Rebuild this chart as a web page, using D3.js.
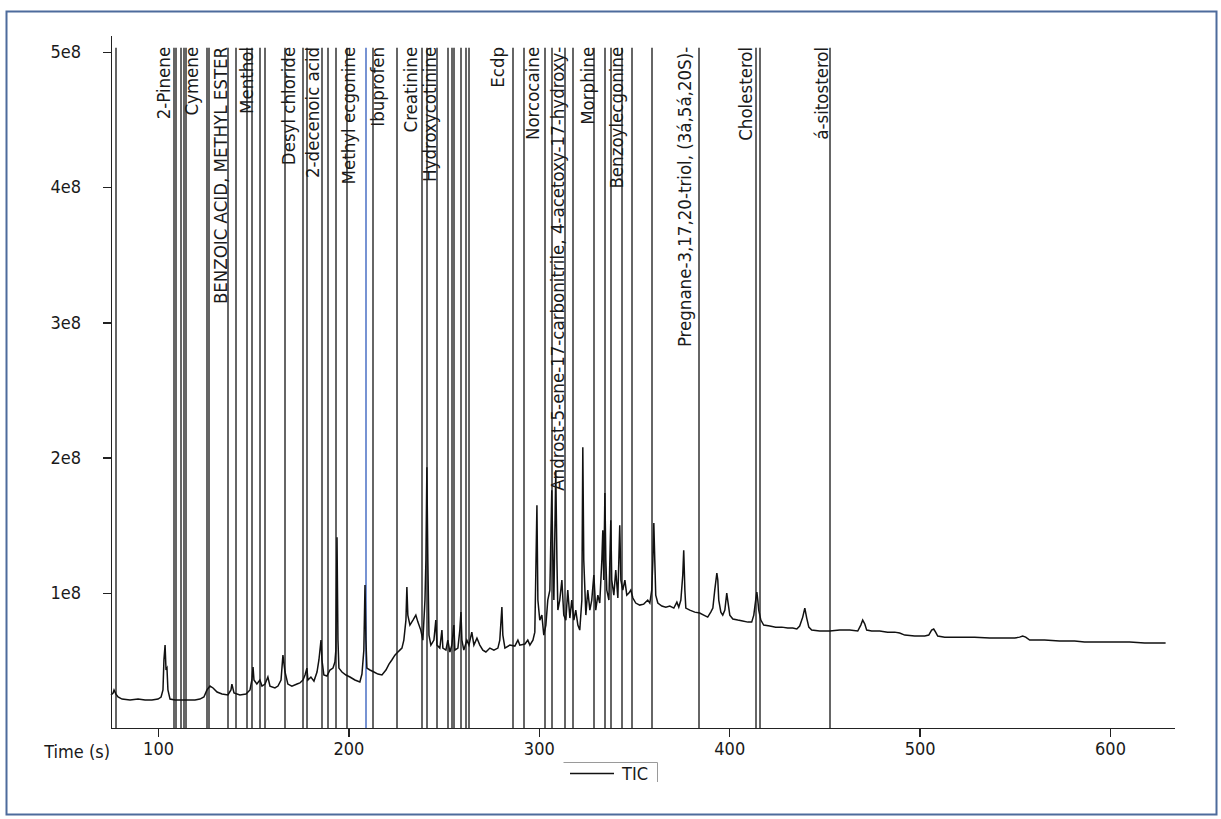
<!DOCTYPE html>
<html>
  <head>
    <meta charset="utf-8">
    <style>
      body {
        margin: 0;
        background: #fff;
      }
      svg text {
        font-family: "DejaVu Sans Condensed", "DejaVu Sans", sans-serif;
        font-stretch: condensed;
        fill: #1a1a1a;
      }
      .axis path, .axis line {
        stroke: #222;
        stroke-width: 1.4;
        shape-rendering: crispEdges;
      }
      .marker {
        stroke: #333;
        stroke-width: 1.5;
      }
      .trace {
        fill: none;
        stroke: #111;
        stroke-width: 1.5;
      }
    </style>
  </head>
  <body>
    <script src="https://cdn.jsdelivr.net/npm/d3@7"></script>
    <script>
      // axis ticks
      var xTicks = [100, 200, 300, 400, 500, 600];
      var yTicks = [1e8, 2e8, 3e8, 4e8, 5e8];

      // identified compounds: label text and retention time (s)
      var compoundNames = ["2-Pinene", "Cymene", "BENZOIC ACID, METHYL ESTER", "Menthol",
        "Desyl chloride", "2-decenoic acid", "Methyl ecgonine", "Ibuprofen", "Creatinine",
        "Hydroxycotinine", "Ecdp", "Norcocaine",
        "Androst-5-ene-17-carbonitrile, 4-acetoxy-17-hydroxy-", "Morphine",
        "Benzoylecgonine", "Pregnane-3,17,20-triol, (3á,5á,20S)-", "Cholesterol", "á-sitosterol"];
      var compoundTimes = [106.3, 121.0, 136.2, 149.9, 171.7, 184.8, 203.2, 218.9, 236.0,
        246.2, 281.9, 300.0, 313.2, 329.2, 344.1, 380.1, 411.9, 451.8];

      // peak marker lines (s); one is highlighted
      var markerTimes = [77.9, 108.4, 109.4, 112.1, 113.4, 114.7, 125.7, 126.8, 136.7, 140.9,
        146.7, 149.3, 153.5, 156.2, 166.7, 176.1, 178.2, 186.1, 189.2, 193.4, 199.2, 212.9,
        225.5, 238.6, 241.2, 246.5, 252.3, 254.4, 255.4, 259.1, 261.7, 263.3, 286.4, 292.1,
        303.2, 306.8, 313.7, 317.9, 328.9, 334.7, 337.8, 343.6, 348.9, 359.3, 384.0, 413.9,
        416.0, 452.8];
      var selectedMarker = 209.2;
      var markerTop = 5.03e8;

      // total ion current: [time (s), intensity (millions)]
      var ticTrace = [
        [75.3, 24.4], [76.4, 25.9], [76.9, 28.1], [77.9, 25.1], [79.0, 22.9], [81.1, 21.4],
        [85.3, 20.7], [89.5, 21.4], [93.2, 20.7], [96.8, 20.7], [100.0, 21.4], [101.6, 22.9],
        [102.6, 28.1], [103.1, 50.3], [103.7, 61.3], [104.2, 42.9], [104.7, 44.3], [105.2, 28.1],
        [106.3, 21.4], [108.9, 20.7], [114.2, 20.7], [119.4, 20.7], [122.0, 21.4], [124.1, 22.9],
        [125.7, 28.1], [127.3, 31.0], [128.9, 29.6], [131.0, 26.6], [133.6, 25.1], [136.7, 24.4],
        [138.3, 28.1], [138.8, 32.5], [139.9, 25.9], [143.0, 24.4], [146.2, 25.1], [148.3, 28.1],
        [149.3, 35.5], [149.9, 45.1], [150.4, 35.5], [151.9, 32.5], [153.5, 35.5], [154.6, 31.0],
        [156.2, 32.5], [157.7, 37.7], [158.8, 31.0], [161.4, 29.6], [163.0, 31.0], [164.6, 35.5],
        [165.6, 53.9], [166.7, 41.4], [168.2, 32.5], [170.3, 31.0], [173.0, 32.5], [174.5, 33.3],
        [176.1, 35.5], [177.2, 39.2], [178.2, 44.3], [178.7, 35.5], [180.3, 37.7], [181.9, 34.7],
        [183.5, 41.4], [184.5, 50.3], [185.6, 65.0], [186.1, 50.3], [187.1, 39.2], [188.7, 38.4],
        [190.3, 42.9], [191.9, 44.3], [192.9, 48.8], [193.4, 57.6], [194.0, 141.1], [194.5, 65.0],
        [195.0, 44.3], [196.6, 41.4], [198.7, 39.2], [200.8, 37.7], [203.4, 35.5], [206.0, 34.0],
        [207.1, 39.9], [208.1, 57.6], [208.7, 105.7], [209.2, 65.0], [209.7, 44.3], [211.3, 42.9],
        [213.4, 41.4], [215.5, 39.9], [217.6, 39.2], [219.7, 42.9], [221.3, 47.3], [222.8, 50.3],
        [224.4, 53.9], [226.0, 56.2], [227.0, 57.6], [228.1, 59.1], [229.1, 65.0], [230.2, 79.8],
        [230.7, 104.2], [231.2, 83.5], [232.3, 76.1], [233.9, 79.8], [235.4, 83.5], [236.5, 78.3],
        [238.0, 72.4], [239.1, 65.0], [240.2, 94.6], [240.7, 124.2], [241.2, 192.9], [241.7, 124.2],
        [242.3, 68.7], [243.3, 61.3], [244.9, 65.0], [245.9, 79.8], [246.5, 61.3], [248.0, 59.1],
        [249.1, 72.4], [249.6, 59.1], [251.2, 57.6], [252.2, 65.0], [253.3, 56.2], [254.3, 61.3],
        [255.4, 76.1], [255.9, 57.6], [257.5, 59.1], [258.5, 72.4], [259.1, 85.7], [259.6, 65.0],
        [260.6, 57.6], [262.2, 65.0], [263.3, 61.3], [264.8, 70.9], [265.9, 61.3], [267.5, 66.5],
        [269.0, 61.3], [270.6, 57.6], [272.2, 56.2], [274.3, 59.1], [276.4, 57.6], [278.5, 59.1],
        [279.5, 65.0], [280.6, 89.4], [281.1, 68.7], [282.2, 59.1], [284.8, 61.3], [287.4, 60.6],
        [289.0, 65.0], [290.0, 61.3], [292.7, 62.1], [294.2, 65.0], [295.3, 61.3], [296.9, 65.0],
        [297.9, 70.9], [299.0, 164.8], [299.5, 94.6], [300.5, 79.8], [301.6, 83.5], [302.6, 68.7],
        [303.7, 76.1], [304.7, 94.6], [305.8, 102.0], [306.8, 175.9], [307.4, 124.2], [307.9, 94.6],
        [308.9, 190.7], [309.5, 124.2], [310.0, 87.2], [311.0, 94.6], [312.1, 109.4], [313.1, 83.5],
        [314.2, 79.8], [315.2, 102.0], [316.3, 81.3], [317.3, 94.6], [318.4, 79.8], [319.4, 87.2],
        [320.5, 76.1], [321.5, 72.4], [322.6, 94.6], [323.1, 207.7], [323.6, 124.2], [324.7, 83.5],
        [325.7, 102.0], [326.8, 87.2], [327.8, 94.6], [328.9, 113.1], [329.9, 87.2], [331.0, 98.3],
        [332.0, 92.4], [333.1, 124.2], [333.6, 146.3], [334.1, 109.4], [334.7, 173.7], [335.2, 124.2],
        [335.7, 102.0], [336.8, 94.6], [337.8, 153.7], [338.3, 109.4], [339.4, 98.3], [340.4, 116.8],
        [341.5, 96.1], [342.5, 150.0], [343.1, 109.4], [344.1, 102.0], [345.2, 109.4], [346.2, 98.3],
        [347.3, 99.8], [348.3, 102.0], [349.4, 96.1], [350.9, 92.4], [353.0, 90.9], [355.1, 91.6],
        [357.2, 94.6], [358.3, 92.4], [359.3, 102.0], [359.9, 124.2], [360.4, 151.5], [360.9, 124.2],
        [361.4, 98.3], [362.5, 92.4], [364.6, 90.2], [366.7, 89.4], [368.8, 90.2], [370.9, 88.7],
        [372.5, 93.1], [373.5, 89.4], [374.6, 94.6], [375.6, 113.1], [376.1, 131.5], [376.7, 102.0],
        [377.2, 88.7], [379.3, 87.2], [381.9, 85.7], [384.5, 85.0], [386.6, 83.5], [388.7, 82.0],
        [390.3, 85.7], [391.4, 88.7], [392.4, 102.0], [393.5, 114.5], [394.0, 109.4], [394.5, 94.6],
        [395.6, 85.7], [396.6, 83.5], [397.7, 87.2], [398.7, 99.8], [399.2, 94.6], [400.3, 83.5],
        [401.9, 80.6], [404.5, 79.8], [407.1, 79.1], [409.8, 78.3], [411.8, 78.3], [412.9, 83.5],
        [413.9, 94.6], [414.5, 100.5], [415.0, 94.6], [415.5, 87.2], [416.6, 79.8], [418.1, 76.1],
        [421.3, 75.4], [424.4, 74.6], [427.6, 74.6], [430.7, 73.9], [433.4, 73.9], [435.5, 73.2],
        [437.0, 75.4], [438.6, 82.0], [439.7, 88.7], [440.7, 81.3], [441.8, 74.6], [443.3, 72.4],
        [447.5, 71.7], [452.8, 71.7], [458.0, 72.4], [463.3, 72.4], [467.5, 71.7], [469.1, 76.1],
        [470.1, 79.8], [471.2, 76.9], [472.2, 72.4], [474.8, 71.7], [479.0, 71.7], [483.2, 70.9],
        [486.9, 70.9], [489.5, 70.2], [492.2, 68.7], [497.4, 68.0], [502.7, 68.0], [504.8, 68.7],
        [506.3, 72.4], [507.4, 73.2], [508.4, 70.9], [509.5, 68.0], [513.2, 67.2], [521.0, 67.2],
        [528.9, 67.2], [536.8, 66.5], [544.7, 66.5], [550.0, 66.5], [552.5, 67.2], [554.1, 68.0],
        [555.7, 67.2], [557.8, 65.0], [565.6, 65.0], [573.5, 64.3], [581.4, 64.3], [586.6, 63.6],
        [594.5, 63.6], [602.4, 63.6], [610.3, 63.6], [618.2, 62.8], [625.0, 62.8], [629.2, 62.8]
      ];

      var W = 1221, H = 819;
      var margin = {top: 35, right: 47, bottom: 91, left: 111},
          width = W - margin.left - margin.right,
          height = H - margin.top - margin.bottom;

      var x = d3.scaleLinear().domain([75.3, 633.6]).range([0, width]);
      var y = d3.scaleLinear().domain([0, 5.125e8]).range([height, 0]);

      var root = d3.select("body").append("svg")
          .attr("width", W)
          .attr("height", H);

      // outer frame
      root.append("rect")
          .attr("x", 6.5).attr("y", 11.5)
          .attr("width", W - 11).attr("height", H - 16)
          .attr("fill", "none")
          .attr("stroke", "#4d6b9c")
          .attr("stroke-width", 2);

      var svg = root.append("g")
          .attr("transform", "translate(" + margin.left + "," + margin.top + ")");

      // peak marker lines
      svg.append("g").selectAll("line")
          .data(markerTimes)
        .enter().append("line")
          .attr("class", "marker")
          .attr("x1", function(d) { return Math.round(x(d)); })
          .attr("x2", function(d) { return Math.round(x(d)); })
          .attr("y1", y(markerTop))
          .attr("y2", y(0));

      svg.append("line")
          .attr("class", "marker")
          .attr("x1", Math.round(x(selectedMarker)))
          .attr("x2", Math.round(x(selectedMarker)))
          .attr("y1", y(markerTop))
          .attr("y2", y(0))
          .style("stroke", "#4a6fc4");

      // the TIC trace
      var line = d3.line()
          .x(function(d) { return x(d[0]); })
          .y(function(d) { return y(d[1] * 1e6); });

      svg.append("path")
          .datum(ticTrace)
          .attr("class", "trace")
          .attr("d", line);

      // compound labels, rotated, hanging from the top
      svg.append("g").selectAll("text")
          .data(compoundNames)
        .enter().append("text")
          .attr("transform", function(d, i) {
            return "translate(" + x(compoundTimes[i]) + "," + (y(markerTop) - 1) + ") rotate(-90)";
          })
          .attr("text-anchor", "end")
          .style("font-size", "18.5px")
          .text(function(d) { return d; });

      // axes
      var xAxis = svg.append("g")
          .attr("class", "axis")
          .attr("transform", "translate(0," + height + ")")
          .call(d3.axisBottom(x).tickValues(xTicks).tickSize(9).tickSizeOuter(0).tickPadding(5));

      var yAxis = svg.append("g")
          .attr("class", "axis")
          .call(d3.axisLeft(y).tickValues(yTicks).tickSize(8).tickSizeOuter(0).tickPadding(22)
            .tickFormat(function(d) { return (d / 1e8) + "e8"; }));

      svg.selectAll(".axis text")
          .style("font-size", "18px")
          .attr("fill", "#1a1a1a");

      svg.append("text")
          .attr("x", -1)
          .attr("y", height + 30)
          .attr("text-anchor", "end")
          .style("font-size", "18px")
          .text("Time (s)");

      // legend
      var legend = svg.append("g")
          .attr("transform", "translate(" + 452 + "," + (height + 34) + ")");
      legend.append("path")
          .attr("d", "M0.5,0.5H94.5V20")
          .attr("fill", "none")
          .attr("stroke", "#9a9a9a");
      legend.append("line")
          .attr("x1", 7).attr("x2", 51)
          .attr("y1", 11.5).attr("y2", 11.5)
          .attr("stroke", "#111")
          .attr("stroke-width", 1.3);
      legend.append("text")
          .attr("x", 59)
          .attr("y", 18)
          .style("font-size", "18px")
          .text("TIC");
    </script>
  </body>
</html>
